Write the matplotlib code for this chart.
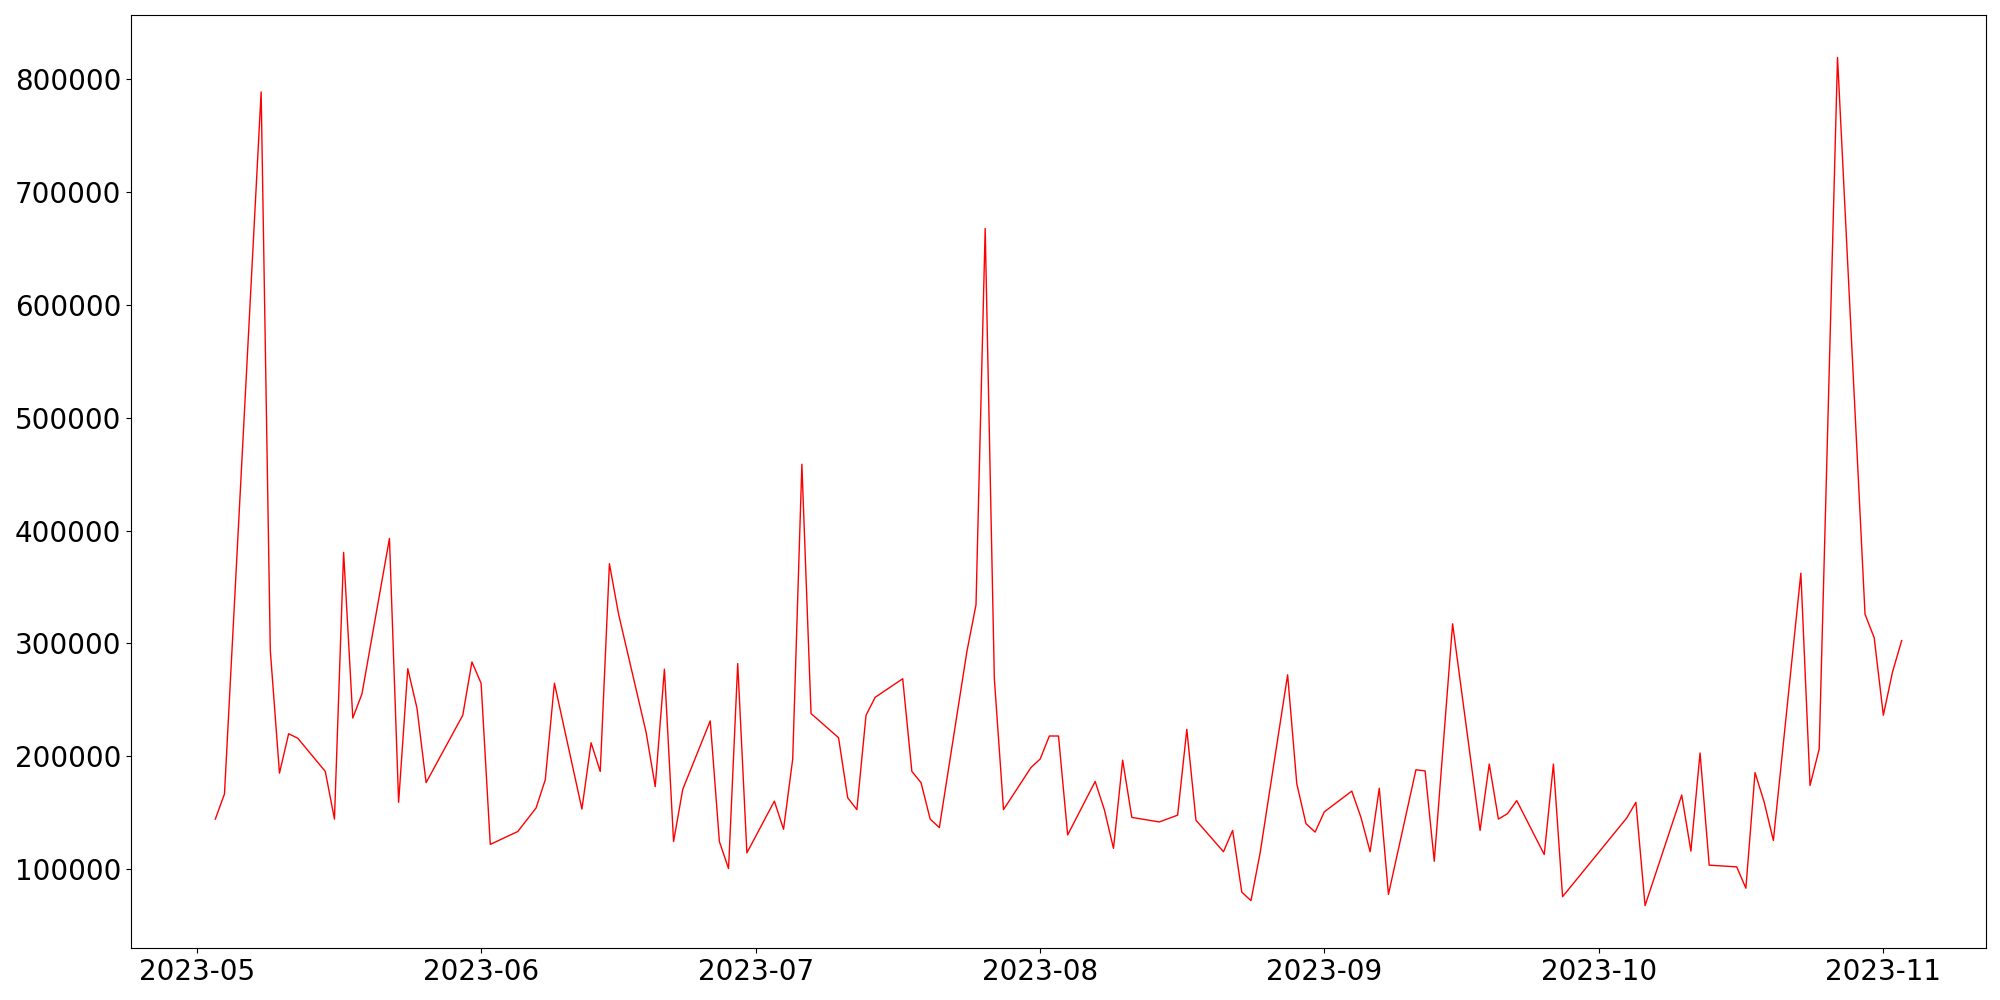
import matplotlib
matplotlib.use("Agg")
import matplotlib.pyplot as plt
import pandas as pd

dates = [
    "2023-05-03", "2023-05-04", "2023-05-08", "2023-05-09", "2023-05-10", "2023-05-11", "2023-05-12",
    "2023-05-15", "2023-05-16", "2023-05-17", "2023-05-18", "2023-05-19",
    "2023-05-22", "2023-05-23", "2023-05-24", "2023-05-25", "2023-05-26",
    "2023-05-30", "2023-05-31", "2023-06-01", "2023-06-02",
    "2023-06-05", "2023-06-07", "2023-06-08", "2023-06-09",
    "2023-06-12", "2023-06-13", "2023-06-14", "2023-06-15", "2023-06-16",
    "2023-06-19", "2023-06-20", "2023-06-21", "2023-06-22", "2023-06-23",
    "2023-06-26", "2023-06-27", "2023-06-28", "2023-06-29", "2023-06-30",
    "2023-07-03", "2023-07-04", "2023-07-05", "2023-07-06", "2023-07-07",
    "2023-07-10", "2023-07-11", "2023-07-12", "2023-07-13", "2023-07-14",
    "2023-07-17", "2023-07-18", "2023-07-19", "2023-07-20", "2023-07-21",
    "2023-07-24", "2023-07-25", "2023-07-26", "2023-07-27", "2023-07-28",
    "2023-07-31",
    "2023-08-01", "2023-08-02", "2023-08-03", "2023-08-04",
    "2023-08-07", "2023-08-08", "2023-08-09", "2023-08-10", "2023-08-11",
    "2023-08-14", "2023-08-16", "2023-08-17", "2023-08-18",
    "2023-08-21", "2023-08-22", "2023-08-23", "2023-08-24", "2023-08-25",
    "2023-08-28", "2023-08-29", "2023-08-30", "2023-08-31",
    "2023-09-01",
    "2023-09-04", "2023-09-05", "2023-09-06", "2023-09-07", "2023-09-08",
    "2023-09-11", "2023-09-12", "2023-09-13", "2023-09-15",
    "2023-09-18", "2023-09-19", "2023-09-20", "2023-09-21", "2023-09-22",
    "2023-09-25", "2023-09-26", "2023-09-27",
    "2023-10-04", "2023-10-05", "2023-10-06",
    "2023-10-10", "2023-10-11", "2023-10-12", "2023-10-13",
    "2023-10-16", "2023-10-17", "2023-10-18", "2023-10-19", "2023-10-20",
    "2023-10-23", "2023-10-24", "2023-10-25", "2023-10-27",
    "2023-10-30", "2023-10-31",
    "2023-11-01", "2023-11-02", "2023-11-03",
]

values_k = [
    144.4, 166.7, 788.4, 293.6, 185.1, 220.0, 216.0,
    186.6, 144.4, 380.6, 233.9, 255.3,
    393.0, 159.3, 277.6, 242.8, 176.7,
    236.4, 283.6, 264.7, 122.0,
    133.4, 154.3, 179.2, 264.7,
    153.3, 212.0, 186.6, 370.6, 325.9,
    221.4, 173.2, 277.2, 124.5, 170.7,
    231.4, 124.5, 100.6, 282.1, 114.5,
    160.3, 135.4, 197.6, 458.7, 237.9,
    216.5, 163.3, 152.8, 236.4, 252.3,
    268.7, 186.6, 176.7, 144.4, 136.9,
    292.6, 334.3, 667.5, 268.7, 152.8,
    190.1,
    197.6, 218.0, 218.0, 130.4,
    177.7, 152.8, 118.5, 196.6, 145.9,
    141.9, 147.9, 223.9, 143.4,
    115.5, 134.4, 79.7, 72.2, 114.5,
    272.2, 175.7, 140.4, 132.9,
    150.8,
    169.2, 145.9, 115.5, 171.7, 77.7,
    188.1, 187.1, 107.1, 317.4,
    134.4, 193.1, 144.4, 149.3, 160.8,
    113.0, 193.1, 75.7,
    145.4, 159.3, 67.8,
    165.7, 116.0, 203.0, 103.6,
    102.1, 83.2, 185.6, 159.3, 125.5,
    362.2, 174.2, 206.5, 819.0,
    325.9, 305.0,
    236.4, 274.7, 302.5,
]

x = pd.to_datetime(dates)
y = [v * 1000 for v in values_k]

fig, ax = plt.subplots(figsize=(20, 10), dpi=100)
ax.plot(x, y, color="red", linewidth=1)
ax.tick_params(axis="both", labelsize=20)
fig.subplots_adjust(left=0.0655, right=0.993, bottom=0.052, top=0.985)
fig.savefig("out.png", dpi=100)
